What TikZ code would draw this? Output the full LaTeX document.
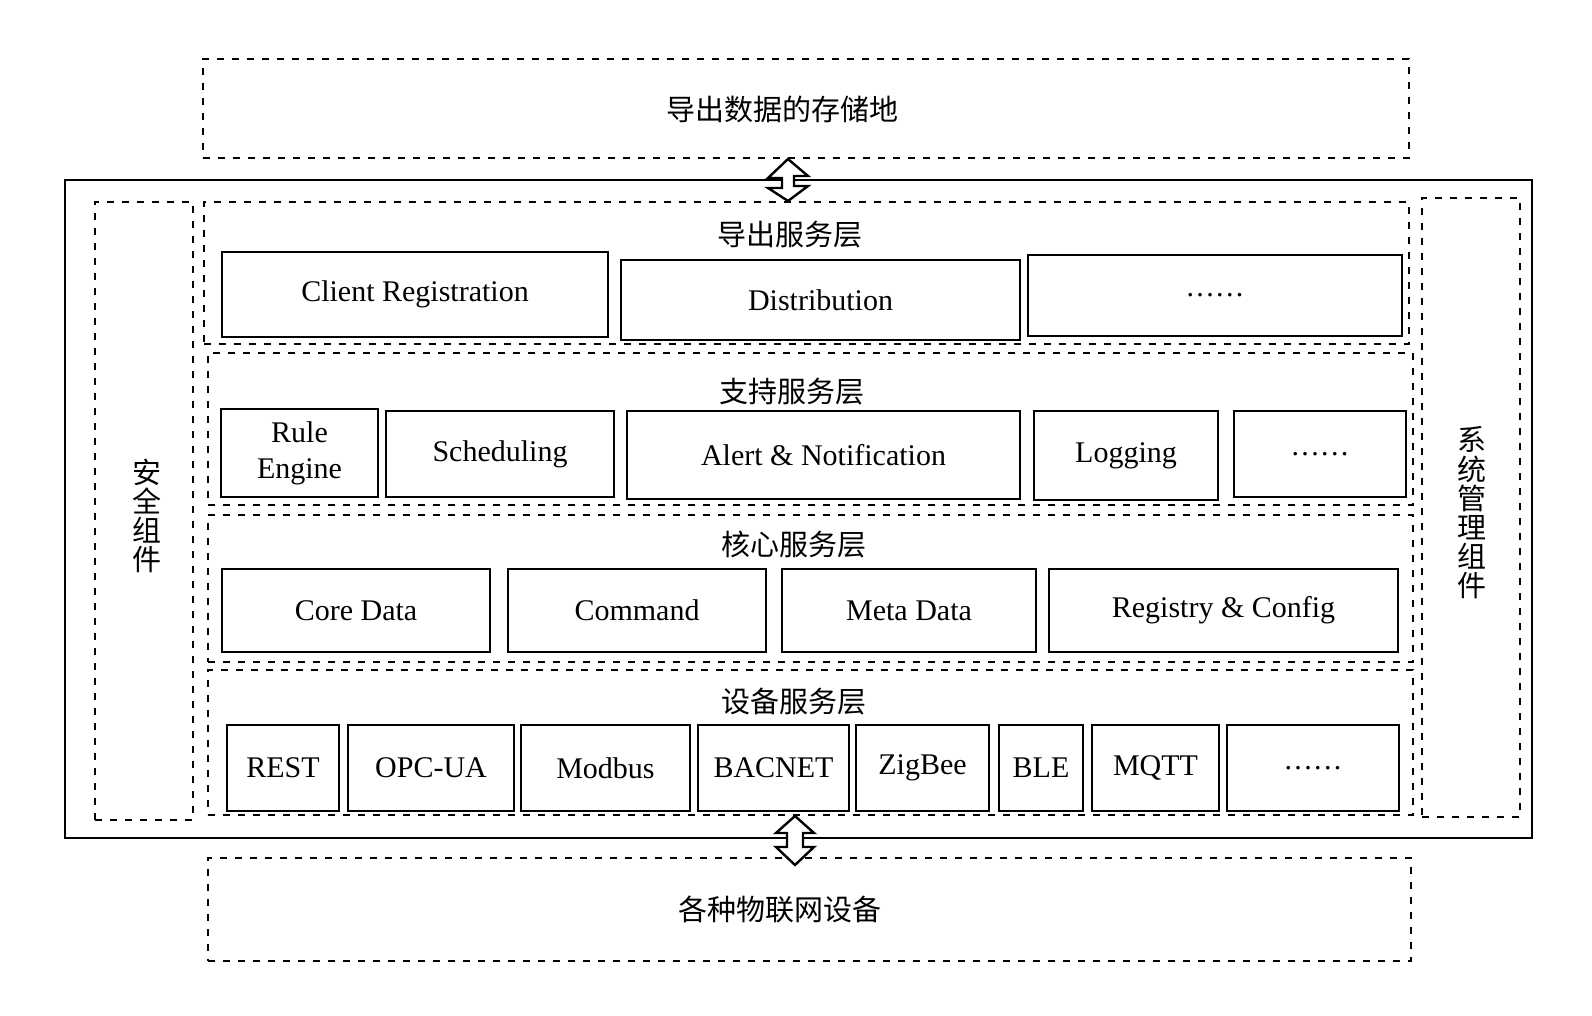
\documentclass[tikz,border=0pt]{standalone}
\usepackage{fontspec}
\setmainfont{Liberation Serif}
\newfontfamily\cjk{Noto Sans CJK SC}
\usepackage{tikz}

\newcommand{\moredots}{.\kern1.2pt.\kern1.2pt.\kern1.2pt.\kern1.2pt.\kern1.2pt.}

\tikzset{
    cell/.style={draw, line width=1.2pt, inner sep=0pt, align=center, font=\fontsize{15}{18}\selectfont},
    layer/.style={draw, dash pattern=on 3.5pt off 4pt, line width=1pt, inner sep=0pt},
    zh/.style={font=\cjk\fontsize{14.5}{14.6}\selectfont, inner sep=0pt, align=center},
    twoway/.style={draw, fill=white, line width=1.2pt, line join=miter},
}

\begin{document}
\begin{tikzpicture}[x=0.5pt, y=-0.5pt]
    \useasboundingbox (0,0) rectangle (1592,1016);

    % 外框
    \node[draw, line width=1.4pt, minimum width=733.5pt, minimum height=329pt] (edgex) at (798.5,509) {};

    % 存储地 / 物联网设备
    \node[layer, minimum width=603pt, minimum height=49.5pt] (store) at (806,108.5) {};
    \node[zh] (storetxt) at (782,109) {导出数据的存储地};
    \node[layer, minimum width=601.5pt, minimum height=51.5pt] (things) at (809.5,909.5) {};
    \node[zh] (thingstxt) at (780,909) {各种物联网设备};

    % 左右两侧组件
    \node[layer, minimum width=49pt, minimum height=309pt] (safety) at (144,511) {};
    \node[zh] (safetytxt) at (147,516) {安\\全\\组\\件};
    \node[layer, minimum width=49pt, minimum height=309.5pt] (sysmgmt) at (1471,507.5) {};
    \node[zh] (sysmgmttxt) at (1472,513) {系\\统\\管\\理\\组\\件};

    % 导出服务层
    \node[layer, minimum width=602.5pt, minimum height=71pt] (export) at (806.5,273) {};
    \node[zh] (exporttxt) at (790,235) {导出服务层};
    \node[cell, minimum width=193pt, minimum height=42.5pt] (creg) at (415,294.5) {Client Registration};
    \node[cell, minimum width=199.5pt, minimum height=40pt] (dist) at (820.5,300) {Distribution};
    \node[cell, minimum width=187pt, minimum height=40.5pt] (exmore) at (1215,295.5) {\moredots};

    % 支持服务层
    \node[layer, minimum width=602.5pt, minimum height=76pt] (support) at (810.5,429) {};
    \node[zh] (supporttxt) at (792,392) {支持服务层};
    \node[cell, minimum width=78.5pt, minimum height=44pt] (rule) at (299.5,453) {Rule\\Engine};
    \node[cell, minimum width=114pt, minimum height=43pt] (sched) at (500,454) {Scheduling};
    \node[cell, minimum width=196.5pt, minimum height=44pt] (alert) at (823.5,455) {Alert \& Notification};
    \node[cell, minimum width=92pt, minimum height=44.5pt] (logging) at (1126,455.5) {Logging};
    \node[cell, minimum width=86pt, minimum height=43pt] (supmore) at (1320,454) {\moredots};

    % 核心服务层
    \node[layer, minimum width=602.5pt, minimum height=73.5pt] (core) at (810.5,588.5) {};
    \node[zh] (coretxt) at (794,545) {核心服务层};
    \node[cell, minimum width=134pt, minimum height=41.5pt] (cdata) at (356,610.5) {Core Data};
    \node[cell, minimum width=129pt, minimum height=41.5pt] (cmd) at (637,610.5) {Command};
    \node[cell, minimum width=127pt, minimum height=41.5pt] (meta) at (909,610.5) {Meta Data};
    \node[cell, minimum width=174.5pt, minimum height=41.5pt] (reg) at (1223.5,610.5) {Registry \& Config};

    % 设备服务层
    \node[layer, minimum width=602.5pt, minimum height=72.5pt] (device) at (810.5,742.5) {};
    \node[zh] (devicetxt) at (794,702) {设备服务层};
    \node[cell, minimum width=56pt, minimum height=43pt] (rest) at (283,768) {REST};
    \node[cell, minimum width=83pt, minimum height=43pt] (opc) at (431,768) {OPC-UA};
    \node[cell, minimum width=84.5pt, minimum height=43pt] (modbus) at (605.5,768) {Modbus};
    \node[cell, minimum width=75.5pt, minimum height=43pt] (bacnet) at (773.5,768) {BACNET};
    \node[cell, minimum width=66.5pt, minimum height=43pt] (zigbee) at (922.5,768) {ZigBee};
    \node[cell, minimum width=42pt, minimum height=43pt] (ble) at (1041,768) {BLE};
    \node[cell, minimum width=63.5pt, minimum height=43pt] (mqtt) at (1155.5,768) {MQTT};
    \node[cell, minimum width=86pt, minimum height=43pt] (devmore) at (1313,768) {\moredots};

    % 双向箭头
    \draw[twoway] (788,0 |- store.south) -- ++(-20,19) -- ++(14,0) -- ++(0,10) -- ++(-14,0)
        -- (788,0 |- export.north) -- ++(20,-15) -- ++(-14,0) -- ++(0,-10) -- ++(14,0) -- cycle;
    \draw[twoway] (795,0 |- device.south) -- ++(-19,17) -- ++(11,0) -- ++(0,14) -- ++(-11,0)
        -- (795,865) -- ++(19,-18) -- ++(-11,0) -- ++(0,-14) -- ++(11,0) -- cycle;
\end{tikzpicture}
\end{document}
